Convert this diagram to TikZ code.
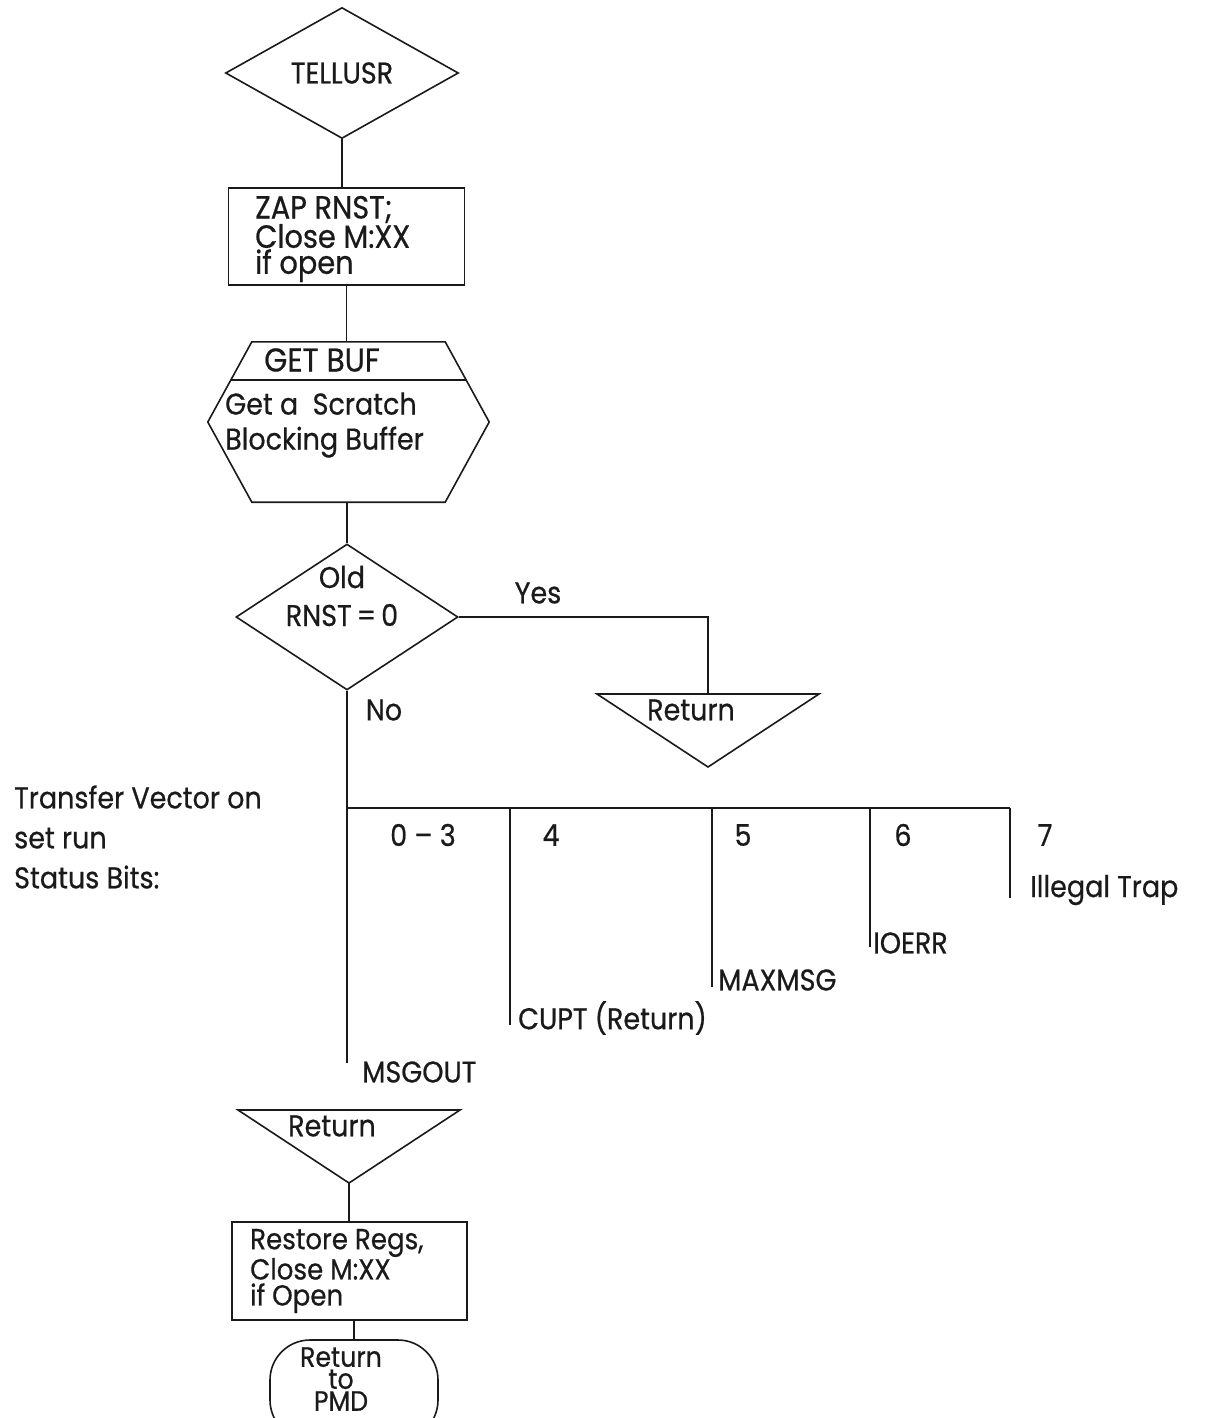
\documentclass[tikz,border=0pt]{standalone}
\usepackage{fontspec}
\setmainfont{Poppins}[FakeStretch=0.9, FakeBold=0.6]
\usetikzlibrary{shapes.geometric}
\definecolor{tinta}{HTML}{1A1A1A}
\newcommand{\corpo}{\fontsize{30}{24}\selectfont}
\tikzset{
  traco/.style={draw=tinta, line width=1.6pt},
  texto/.style={text=tinta, inner sep=0pt, font=\corpo, align=left},
  losango/.style={diamond, traco, inner sep=0pt},
  caixa/.style={rectangle, traco, minimum width=236pt, minimum height=97pt},
}
\newcommand{\retorno}[2]{%
  \begin{scope}[shift={#2}]
    \draw[traco] (-111,0) -- (111,0) -- (0,73) -- cycle;
    \coordinate (#1) at (0,0);
    \coordinate (#1p) at (0,73);
    \node[texto] (#1txt) at (-17,16) {Return};
  \end{scope}}

\begin{document}
\begin{tikzpicture}[x=1pt, y=-1pt]
  \useasboundingbox (0,0) rectangle (1209,1418);
  \node[losango, texto, minimum width=233pt, minimum height=131pt] (tell) at (342,73) {TELLUSR};
  \node[caixa] (zap) at (346.5,236.5) {};
  \node[texto, anchor=west, font=\fontsize{32}{26}\selectfont] (zaptxt) at (255,239) {ZAP RNST;\\Close M:XX\\if open};
  % hexagono do GET BUF
  \node[minimum width=193pt, minimum height=160pt, inner sep=0pt] (buf) at (348.5,422) {};
  \draw[traco] (buf.north west) -- (buf.north east) -- ([xshift=44pt]buf.east)
    -- (buf.south east) -- (buf.south west) -- ([xshift=-44pt]buf.west) -- cycle;
  \draw[traco] ([xshift=-21pt,yshift=-38pt]buf.north west) -- ([xshift=21pt,yshift=-38pt]buf.north east);
  \node[texto, font=\fontsize{33}{24}\selectfont] (buftit) at (322,360) {GET BUF};
  \node[texto, anchor=west, font=\fontsize{30}{35}\selectfont] (buftxt) at (225,425) {Get a~ Scratch\\Blocking Buffer};
  \draw[traco] (tell.south) -- (tell.south |- zap.north);
  \draw[traco] (zap.south) -- (zap.south |- buf.north);
  \node[losango, minimum width=222pt, minimum height=146pt] (old) at (347,617) {};
  \draw[traco] (buf.south -| old.north) -- (old.north);
  \node[texto, align=center, font=\fontsize{30}{38}\selectfont] (oldtxt) at (342,596) {Old\\RNST{\,}={\,}0};
  \retorno{ret1}{(708,694)}
  \draw[traco] (old.east) -| (ret1);
  \node[texto] (sim) at (538,593) {Yes};
  \node[texto] (nao) at (384,710) {No};
  % vetor de transferencia
  \node[texto, anchor=west, font=\fontsize{30}{40}\selectfont] (vetor) at (14,837) {Transfer Vector on\\set run\\Status Bits:};
  \foreach \i/\x/\fim/\xn/\num/\xd/\yd/\dest in {0/347/1063/423/0 – 3/362/1072/MSGOUT,
      1/510/1025/551/4/518/1018/CUPT (Return), 2/712/987/743/5/718/980/MAXMSG,
      3/870/947/903/6/873/943/IOERR, 4/1010/898/1045/7/1030/890/Illegal Trap} {
    \coordinate (b\i) at (\x,808);
    \coordinate (f\i) at (\x,\fim);
    \draw[traco] (b\i) -- (f\i);
    \node[texto] (n\i) at (\xn,835) {\num};
    \node[texto, anchor=west] (d\i) at (\xd,\yd) {\dest};
  }
  \draw[traco] (old.south) -- (b0);
  \draw[traco] (b0) -- (b4);
  \retorno{ret2}{(349,1110)}
  \node[caixa, minimum width=235pt, minimum height=98pt] (rest) at (349.5,1271) {};
  \node[texto, anchor=west, font=\fontsize{29}{26}\selectfont] (resttxt) at (250,1271) {Restore Regs,\\Close M:XX\\if Open};
  \draw[traco] (ret2p) -- (ret2p |- rest.north);
  \node[traco, rectangle, rounded corners=40pt, minimum width=168pt, minimum height=100pt] (pmd) at (354,1390) {};
  \draw[traco] (rest.south -| pmd.north) -- (pmd.north);
  \node[texto, align=center, font=\fontsize{28}{22}\selectfont] (pmdtxt) at (341,1379) {Return\\to\\PMD};
\end{tikzpicture}
\end{document}
